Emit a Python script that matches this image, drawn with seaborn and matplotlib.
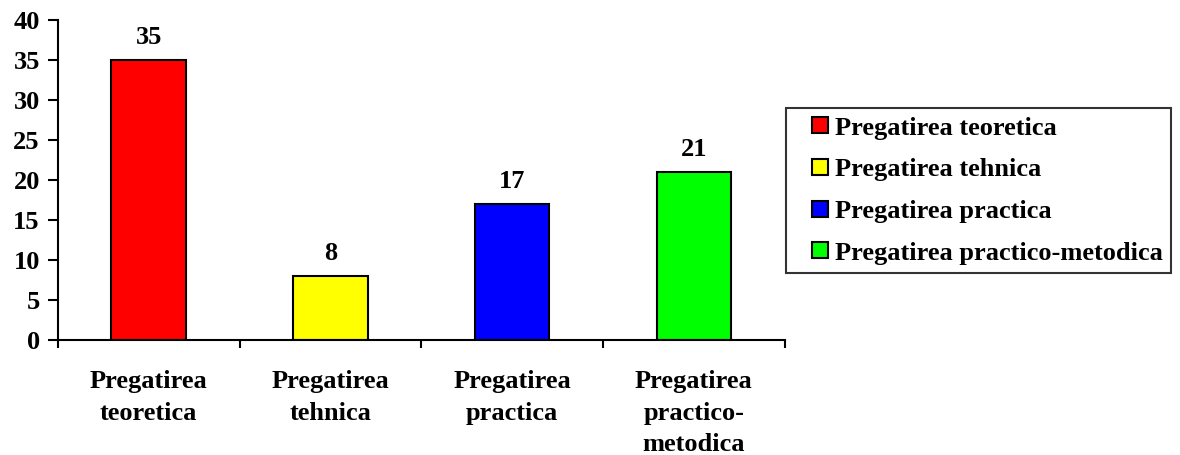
import matplotlib
matplotlib.use("Agg")
import matplotlib.pyplot as plt
import seaborn as sns
import pandas as pd
from matplotlib.lines import Line2D
from matplotlib.ticker import MultipleLocator, FixedLocator

categories = ["Pregatirea teoretica", "Pregatirea tehnica",
              "Pregatirea practica", "Pregatirea practico-metodica"]
values = [35, 8, 17, 21]
tick_labels = ["Pregatirea\nteoretica", "Pregatirea\ntehnica",
               "Pregatirea\npractica", "Pregatirea\npractico-\nmetodica"]
colors = ["#FF0000", "#FFFF00", "#0000FF", "#00FF00"]

sns.set_style("white")
plt.rcParams["font.family"] = ["Liberation Serif", "DejaVu Serif"]
plt.rcParams["font.weight"] = "bold"
plt.rcParams["text.color"] = "black"
plt.rcParams["xtick.color"] = "black"
plt.rcParams["ytick.color"] = "black"

FS = 19

df = pd.DataFrame({"category": categories, "value": values})

fig = plt.figure(figsize=(11.8, 4.55), dpi=100)
ax = fig.add_axes([0.049, 0.253, 0.616, 0.703])

sns.barplot(data=df, x="category", y="value", hue="category",
            palette=colors, saturation=1, width=0.41, dodge=False, legend=False,
            edgecolor="black", linewidth=1.5, ax=ax)

for cont in ax.containers:
    ax.bar_label(cont, fmt="%d", padding=8, fontsize=FS, fontweight="bold", color="black")

ax.set_xlim(-0.5, len(categories) - 0.5)
ax.set_ylim(0, 40)
ax.yaxis.set_major_locator(MultipleLocator(5))
ax.set_xlabel("")
ax.set_ylabel("")

# category labels centred under bars, tick marks between categories
ax.set_xticks(range(len(categories)))
ax.set_xticklabels(tick_labels, fontsize=FS, fontweight="bold", linespacing=1.45)
ax.xaxis.set_minor_locator(FixedLocator([i - 0.5 for i in range(len(categories) + 1)]))
ax.tick_params(axis="x", which="major", bottom=True, length=0, pad=22)
ax.tick_params(axis="x", which="minor", bottom=True, length=6, width=1.5,
               direction="out", color="black")
ax.tick_params(axis="y", which="major", left=True, length=7, width=1.5,
               direction="out", color="black", labelsize=FS, pad=6)
for lbl in ax.get_yticklabels():
    lbl.set_fontweight("bold")

for side in ["top", "right"]:
    ax.spines[side].set_visible(False)
for side in ["left", "bottom"]:
    ax.spines[side].set_color("black")
    ax.spines[side].set_linewidth(1.5)

handles = [Line2D([], [], linestyle="none", marker="s", markersize=11,
                  markerfacecolor=c, markeredgecolor="black", markeredgewidth=1.5)
           for c in colors]
leg = fig.legend(handles, categories, loc="upper left",
                 bbox_to_anchor=(0.666, 0.762), frameon=True, fancybox=False,
                 prop={"size": FS, "weight": "bold"},
                 handlelength=2.0, handletextpad=-0.42,
                 labelspacing=0.69, borderpad=0.3, borderaxespad=0)
leg.get_frame().set_edgecolor("black")
leg.get_frame().set_linewidth(1.5)
for t in leg.get_texts():
    t.set_color("black")

fig.savefig("out.png", dpi=100)
